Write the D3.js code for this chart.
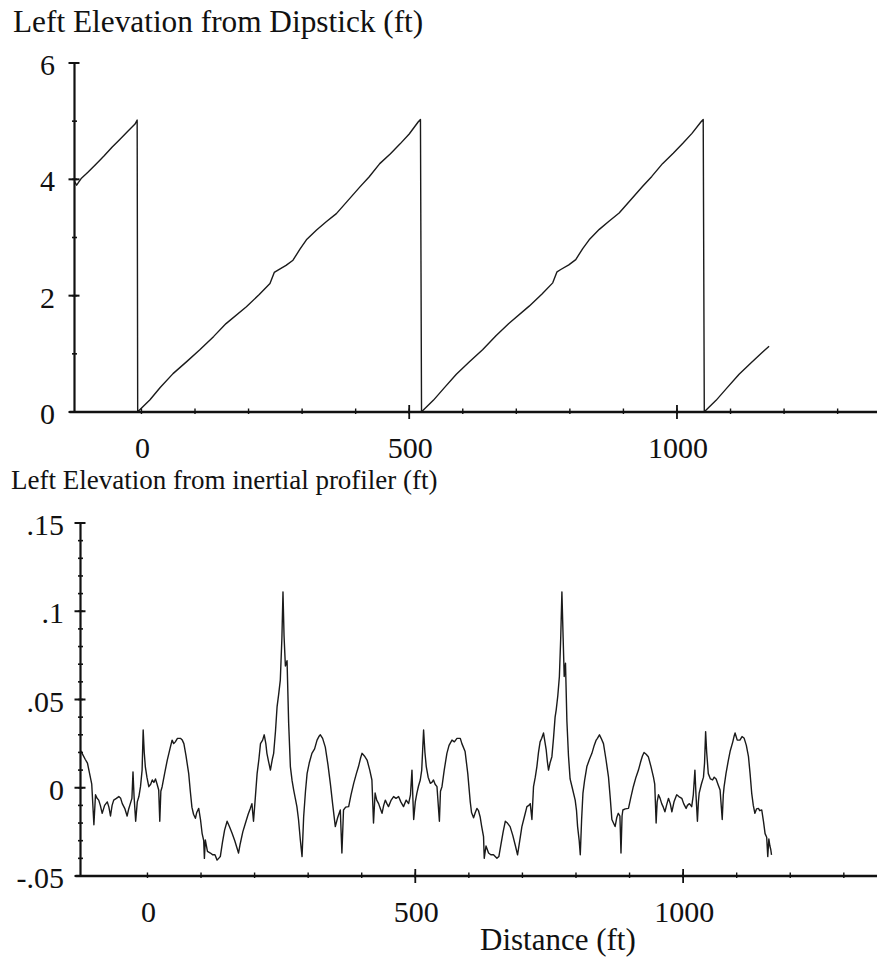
<!DOCTYPE html>
<html>
<head>
<meta charset="utf-8">
<script src="https://cdn.jsdelivr.net/npm/d3@7"></script>
<style>
  html, body { margin: 0; padding: 0; background: #fff; }
  svg { display: block; }
  text { font-family: "Liberation Serif", "Times New Roman", serif; fill: #111; }
</style>
</head>
<body>
<svg id="chart" width="877" height="958"></svg>
<script>
// ---------- DATA ----------
const topTitle = "Left Elevation from Dipstick (ft)";
const bottomTitle = "Left Elevation from inertial profiler (ft)";
const xAxisTitle = "Distance (ft)";

const xTickLabels = [0, 500, 1000];
const topYTickLabels = ["0", "2", "4", "6"];
const topYTickValues = [0, 2, 4, 6];
const bottomYTickLabels = ["-.05", "0", ".05", ".1", ".15"];
const bottomYTickValues = [-0.05, 0, 0.05, 0.1, 0.15];

// Dipstick cumulative elevation (ft) vs distance (ft)
const dipDistance = [
  -125, -121, -112, -100, -85, -70, -55, -40, -25, -12, -8, -7,
  -5, 16, 35, 59, 85, 109, 135, 158, 196, 220, 240, 248, 255, 270, 283, 296, 308, 327, 345, 364, 385, 408, 425, 445, 465, 483, 500, 517, 521, 523,
  525, 545, 565, 588, 612, 637, 662, 686, 724, 748, 768, 776, 783, 798, 811, 824, 836, 855, 873, 892, 913, 936, 953, 973, 993, 1011, 1028, 1045, 1049, 1051,
  1053, 1073, 1093, 1116, 1140, 1160, 1172
];
const dipElevation = [
  3.96, 3.90, 4.02, 4.12, 4.26, 4.40, 4.55, 4.69, 4.83, 4.95, 5.02, 0.0,
  0.02, 0.21, 0.42, 0.66, 0.87, 1.07, 1.30, 1.52, 1.81, 2.02, 2.21, 2.40, 2.44, 2.52, 2.61, 2.80, 2.96, 3.13, 3.27, 3.41, 3.63, 3.87, 4.04, 4.27, 4.44, 4.61, 4.78, 4.99, 5.03, 0.0,
  0.02, 0.20, 0.41, 0.65, 0.86, 1.07, 1.31, 1.52, 1.82, 2.03, 2.22, 2.41, 2.45, 2.53, 2.62, 2.81, 2.96, 3.14, 3.28, 3.42, 3.64, 3.88, 4.05, 4.27, 4.45, 4.62, 4.79, 4.99, 5.03, 0.0,
  0.02, 0.20, 0.41, 0.65, 0.86, 1.03, 1.13
];

// Inertial profiler elevation (ft) vs distance (ft)
const profDistance = [
  -125, -122, -116, -112, -108, -104, -100, -97, -94, -91, -88, -84.5, -80, -75, -72, -69, -66, -63, -58, -53.5,
  -50, -47, -42, -38, -35, -32, -29, -27, -25, -22, -19, -16, -13, -10, -8, -6, -4, -1, 2.5, 6,
  9, 12, 15, 18, 21, 23, 25, 27.4, 32, 37, 42, 46, 49, 52, 56, 61.5, 65, 68, 72, 77,
  80, 83, 86, 89.5, 92, 95.7, 99, 102, 105, 106.3, 108, 112, 117.5, 122, 126, 130, 133, 136, 140, 144,
  148.7, 153, 158, 163, 167, 170, 173, 178, 183, 188, 192, 195, 198, 201.5, 204.7, 208, 211, 215, 218, 221,
  223, 226, 229.5, 233, 235.6, 239, 242, 245, 248, 251, 253, 255, 257.5, 260.6, 263.6, 266.8, 270, 273, 276, 279,
  282, 285.4, 288.6, 291.6, 295, 298, 302, 307, 312, 316.6, 320, 322.8, 327, 332, 337, 341.4, 346, 350.7, 355, 360,
  363, 366, 370, 375.6, 380, 385, 390, 394, 398, 400.5, 405, 410, 415, 419, 422, 425, 428, 431.5, 435, 437.9,
  441, 444, 447, 450, 455, 459.5, 464, 468.8, 473, 478, 483, 487.5, 491, 493.8, 495.5, 497, 500, 503, 506, 509.3,
  512, 515.5, 518, 520.5, 524, 528, 531, 534, 537, 540.5, 545, 547, 549.8, 554, 559, 563, 568.5, 573, 577.8, 584,
  587, 593, 598, 602.6, 605, 608.8, 612, 615, 618, 621, 624, 627.4, 628.7, 632, 636.8, 641, 646, 652.4, 656, 660,
  664, 668, 672, 677, 682, 687, 690.9, 695, 699, 704, 708.4, 712, 714.6, 717.7, 720.7, 724, 727, 730, 733, 736,
  739.4, 742, 744.4, 746.5, 748.7, 751.5, 755, 758, 761, 763, 766, 769, 771.5, 773.7, 776, 778, 780.4, 783, 786, 789,
  793, 798.5, 801, 803, 806, 808, 810.5, 813, 816, 820.3, 825, 829.7, 834, 837.7, 840, 843.8, 847, 851.3, 856, 860.7,
  864, 867, 870, 873, 876, 879, 882, 884, 886, 887.5, 892, 898, 902, 907, 912, 916.6, 921, 924, 927, 931,
  935, 940, 944.6, 947, 949.6, 951.5, 954, 957, 960, 963, 966, 969, 972.6, 976, 979, 983, 988, 992, 997.5, 1001,
  1005.6, 1008, 1011.8, 1016, 1019, 1022, 1024, 1026.7, 1028.5, 1030, 1034, 1038, 1040, 1042, 1044, 1047, 1051, 1055, 1058, 1061.6,
  1065, 1069, 1073, 1075, 1076.5, 1080, 1084.5, 1088, 1092.7, 1095, 1097, 1101, 1106, 1110, 1114, 1118, 1122, 1125, 1128, 1131,
  1134, 1137, 1140.5, 1143, 1146.8, 1150, 1153, 1156, 1158, 1160, 1162, 1163.6, 1165
];
const profElevation = [
  0.021, 0.0195, 0.016, 0.0139, 0.008, 0.002, -0.021, -0.004, -0.006, -0.007, -0.010, -0.0145, -0.010, -0.008, -0.011, -0.016, -0.010, -0.007, -0.006, -0.005,
  -0.006, -0.009, -0.012, -0.016, -0.012, -0.009, -0.006, 0.009, -0.005, -0.019, -0.008, -0.005, 0.0006, 0.010, 0.0327, 0.020, 0.012, 0.006, 0.0006, 0.002,
  0.0044, 0.003, 0.005, 0.002, -0.0013, -0.019, -0.002, 0.0006, 0.008, 0.0157, 0.022, 0.027, 0.025, 0.026, 0.028, 0.028, 0.027, 0.025, 0.018, 0.008,
  -0.002, -0.011, -0.015, -0.0173, -0.014, -0.0117, -0.018, -0.0258, -0.030, -0.040, -0.0296, -0.036, -0.037, -0.038, -0.038, -0.041, -0.040, -0.039, -0.031, -0.024,
  -0.019, -0.022, -0.0258, -0.030, -0.034, -0.037, -0.032, -0.025, -0.020, -0.015, -0.0117, -0.009, -0.019, -0.005, 0.008, 0.016, 0.025, 0.027, 0.030, 0.025,
  0.0195, 0.015, 0.010, 0.016, 0.0195, 0.032, 0.046, 0.053, 0.061, 0.085, 0.111, 0.086, 0.069, 0.072, 0.0365, 0.012, 0.004, -0.0013, -0.006, -0.0107,
  -0.018, -0.0296, -0.039, -0.0164, -0.002, 0.008, 0.014, 0.0195, 0.022, 0.027, 0.029, 0.030, 0.028, 0.023, 0.013, 0.0025, -0.010, -0.022, -0.017, -0.0126,
  -0.037, -0.0126, -0.011, -0.0107, -0.004, 0.0025, 0.008, 0.012, 0.017, 0.0195, 0.018, 0.0157, 0.010, 0.0044, -0.020, -0.003, -0.007, -0.009, -0.012, -0.0145,
  -0.010, -0.007, -0.009, -0.0107, -0.007, -0.005, -0.006, -0.005, -0.008, -0.0107, -0.007, -0.009, -0.004, 0.010, -0.006, -0.018, -0.008, -0.003, 0.001, 0.0044,
  0.010, 0.0327, 0.020, 0.012, 0.006, 0.0025, 0.003, 0.0044, 0.002, 0.0006, -0.019, -0.002, 0.0006, 0.010, 0.0195, 0.024, 0.027, 0.026, 0.028, 0.028,
  0.025, 0.0205, 0.008, -0.008, -0.014, -0.017, -0.014, -0.0117, -0.013, -0.0164, -0.022, -0.0277, -0.040, -0.033, -0.037, -0.038, -0.038, -0.040, -0.039, -0.032,
  -0.025, -0.019, -0.020, -0.022, -0.027, -0.033, -0.038, -0.030, -0.022, -0.016, -0.0107, -0.010, -0.009, -0.018, 0.0006, 0.006, 0.012, 0.020, 0.026, 0.028,
  0.031, 0.026, 0.0214, 0.015, 0.010, 0.014, 0.0176, 0.028, 0.040, 0.044, 0.052, 0.063, 0.085, 0.111, 0.085, 0.063, 0.0705, 0.038, 0.018, 0.005,
  0.000, -0.007, -0.013, -0.022, -0.030, -0.038, -0.018, -0.003, 0.004, 0.012, 0.016, 0.0195, 0.024, 0.027, 0.028, 0.030, 0.028, 0.025, 0.016, 0.006,
  -0.006, -0.018, -0.020, -0.022, -0.017, -0.0145, -0.016, -0.037, -0.016, -0.0126, -0.012, -0.0117, -0.006, 0.0006, 0.006, 0.010, 0.015, 0.018, 0.020, 0.019,
  0.0176, 0.012, 0.006, 0.002, -0.020, -0.008, -0.004, -0.006, -0.009, -0.011, -0.0136, -0.010, -0.006, -0.009, -0.0136, -0.008, -0.004, -0.005, -0.006, -0.009,
  -0.0117, -0.010, -0.009, -0.0107, -0.004, 0.010, -0.004, -0.019, -0.008, -0.003, 0.002, 0.006, 0.014, 0.0318, 0.020, 0.008, 0.005, 0.0044, 0.006, 0.005,
  0.002, -0.0013, -0.018, -0.004, 0.0006, 0.008, 0.0157, 0.021, 0.026, 0.029, 0.031, 0.027, 0.027, 0.029, 0.028, 0.024, 0.0176, 0.008, -0.003, -0.010,
  -0.0145, -0.012, -0.0117, -0.013, -0.0126, -0.019, -0.026, -0.028, -0.039, -0.029, -0.033, -0.035, -0.038
];

// ---------- DRAWING ----------
const svg = d3.select("#chart");
const FS = 30;

function drawPanel(cfg) {
  const g = svg.append("g");
  const x = cfg.x, y = cfg.y;
  const x0 = x.range()[0];
  const yBase = y.range()[0];

  // data line
  const pts = cfg.xs.map((d, i) => [d, cfg.ys[i]]);
  g.append("path")
    .attr("d", d3.line().x(d => x(d[0])).y(d => y(d[1]))(pts))
    .attr("fill", "none")
    .attr("stroke", "#1a1a1a")
    .attr("stroke-width", 1.4)
    .attr("stroke-linejoin", "round");

  // y axis line
  g.append("line")
    .attr("x1", x0).attr("x2", x0)
    .attr("y1", y(cfg.yMinorTicks[0])).attr("y2", y(cfg.yMinorTicks[cfg.yMinorTicks.length - 1]))
    .attr("stroke", "#111").attr("stroke-width", 2.2);
  // y ticks
  g.selectAll(".ymin").data(cfg.yMinorTicks).join("line")
    .attr("x1", x0 - 2.5).attr("x2", x0 + 2.5)
    .attr("y1", d => y(d)).attr("y2", d => y(d))
    .attr("stroke", "#111").attr("stroke-width", 1.6);
  g.selectAll(".ymaj").data(cfg.yMajor).join("line")
    .attr("x1", x0 - 6).attr("x2", x0 + 5)
    .attr("y1", d => y(d)).attr("y2", d => y(d))
    .attr("stroke", "#111").attr("stroke-width", 2);
  g.selectAll(".ylab").data(cfg.yMajor).join("text")
    .attr("x", cfg.yLabelX)
    .attr("y", d => y(d) + 12)
    .attr("text-anchor", "end")
    .attr("font-size", FS)
    .text((d, i) => cfg.yLabels[i]);

  // x axis line
  g.append("line")
    .attr("x1", x0 - 5).attr("x2", 877)
    .attr("y1", yBase).attr("y2", yBase)
    .attr("stroke", "#111").attr("stroke-width", 2.4);
  // x ticks (every 100 ft)
  const minor = d3.range(0, 1400, 100);
  g.selectAll(".xmin").data(minor).join("line")
    .attr("x1", d => x(d)).attr("x2", d => x(d))
    .attr("y1", yBase - 3.5).attr("y2", yBase + 2)
    .attr("stroke", "#111").attr("stroke-width", 1.4);
  g.selectAll(".xmaj").data([500, 1000]).join("line")
    .attr("x1", d => x(d)).attr("x2", d => x(d))
    .attr("y1", yBase - 7).attr("y2", yBase + 7)
    .attr("stroke", "#111").attr("stroke-width", 1.8);
  g.selectAll(".xlab").data(xTickLabels).join("text")
    .attr("x", d => x(d) + 1)
    .attr("y", yBase + 46)
    .attr("text-anchor", "middle")
    .attr("font-size", FS)
    .text(d => d);

  // title
  g.append("text")
    .attr("x", cfg.titleX).attr("y", cfg.titleY)
    .attr("font-size", cfg.titleSize)
    .text(cfg.title);
}

drawPanel({
  x: d3.scaleLinear().domain([-125, 1375]).range([74.5, 877.8]),
  y: d3.scaleLinear().domain([0, 6]).range([412, 63]),
  xs: dipDistance, ys: dipElevation,
  yMinorTicks: d3.range(0, 7, 1),
  yMajor: topYTickValues, yLabels: topYTickLabels,
  yLabelX: 55,
  title: topTitle, titleX: 13, titleY: 32, titleSize: 31.3
});

drawPanel({
  x: d3.scaleLinear().domain([-125, 1375]).range([80.5, 884]),
  y: d3.scaleLinear().domain([-0.05, 0.15]).range([876, 523]),
  xs: profDistance, ys: profElevation,
  yMinorTicks: d3.range(-50, 151, 10).map(v => v / 1000),
  yMajor: bottomYTickValues, yLabels: bottomYTickLabels,
  yLabelX: 64,
  title: bottomTitle, titleX: 11, titleY: 489, titleSize: 27
});

svg.append("text")
  .attr("x", 480).attr("y", 950)
  .attr("font-size", 31)
  .text(xAxisTitle);
</script>
</body>
</html>
